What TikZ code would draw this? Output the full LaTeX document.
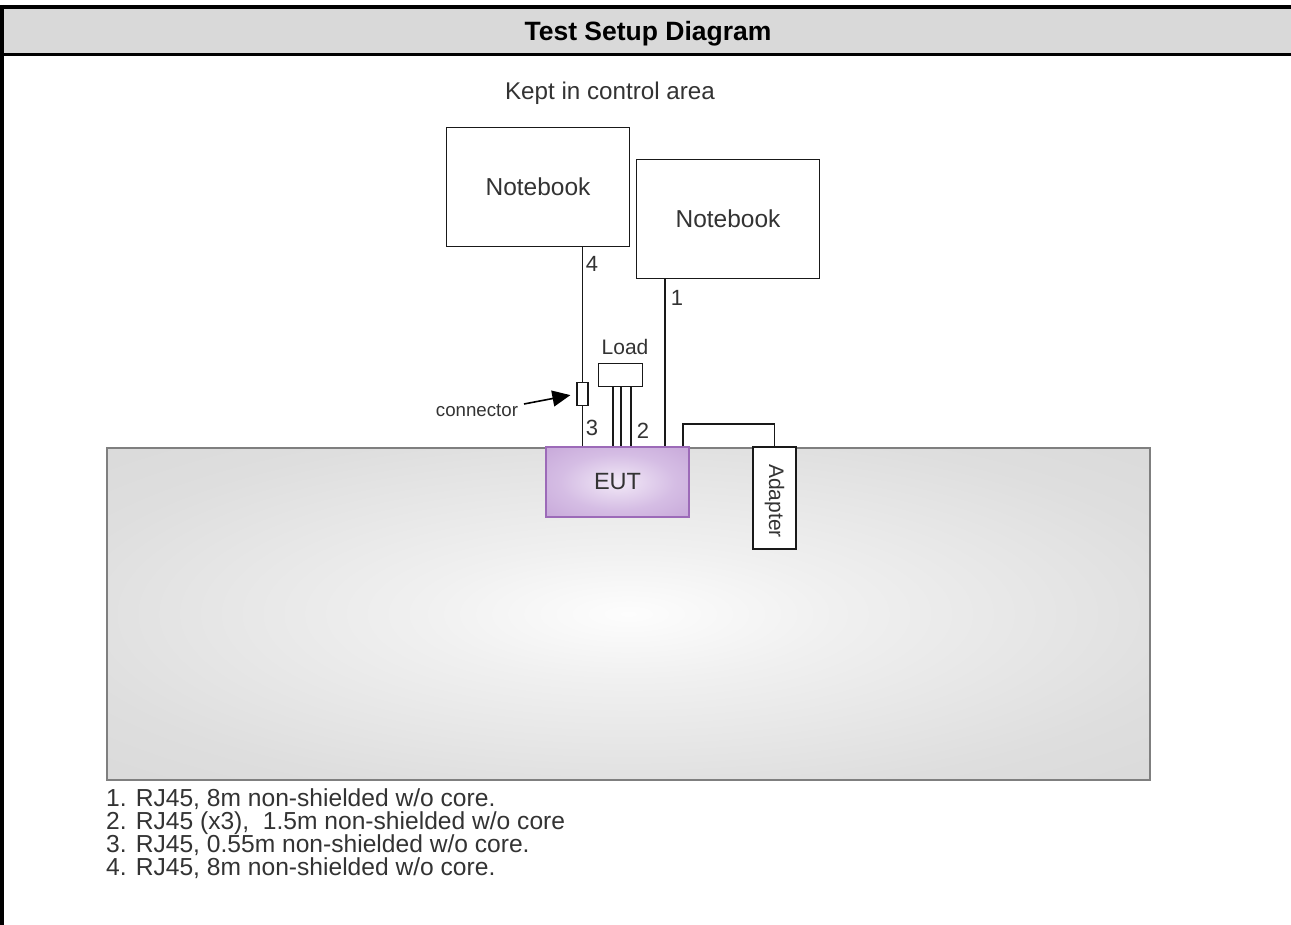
\documentclass[tikz,border=0pt]{standalone}
\usepackage{fontspec}
\setmainfont{Liberation Sans}
\usetikzlibrary{arrows.meta}
\definecolor{bandgray}{HTML}{D9D9D9}
\definecolor{inkgray}{HTML}{333333}
\definecolor{tableedge}{HTML}{7F7F7F}
\definecolor{eutedge}{HTML}{9C6AB8}
\definecolor{tA}{HTML}{FDFDFD}
\definecolor{tB}{HTML}{F0F0F0}
\definecolor{tC}{HTML}{DEDEDE}
\definecolor{tD}{HTML}{D3D3D3}
\definecolor{tE}{HTML}{CACACA}
\definecolor{eA}{HTML}{F2E9F7}
\definecolor{eB}{HTML}{D5BDE4}
\definecolor{eC}{HTML}{BB96D0}
\definecolor{eD}{HTML}{AF84C7}
\newcommand{\fsz}[1]{\fontsize{#1}{#1}\selectfont}
% soft radial fills for the table top and the EUT
\pgfdeclareradialshading{tablefill}{\pgfpoint{0bp}{0bp}}{%
  color(0bp)=(tA); color(10bp)=(tB); color(28bp)=(tC);
  color(50bp)=(tD); color(71bp)=(tE)}
\pgfdeclareradialshading{eutfill}{\pgfpoint{0bp}{0bp}}{%
  color(0bp)=(eA); color(20bp)=(eB); color(50bp)=(eC); color(71bp)=(eD)}
\tikzset{
  frameline/.style={line width=3.5pt, black},
  wire/.style={line width=1.8pt, black!90},
  boxed/.style={draw=black!90, line width=1.7pt, fill=white, inner sep=0pt},
  label/.style={text=inkgray, inner sep=0pt, anchor=base},
}
\begin{document}
\begin{tikzpicture}[x=1pt,y=-1pt]
\useasboundingbox (0,0) rectangle (1291,925);
\fill[white] (0,0) rectangle (1291,925);

% page frame and heading band
\fill[bandgray] (2,7) rectangle (1291,55);
\draw[line width=4pt] (0,7) -- (1291,7);
\draw[line width=3pt] (2,55) -- (1291,55);
\draw[frameline] (1.75,5) -- (1.75,925);
\node[anchor=base, inner sep=0pt] (title) at (648,41)
  {\bfseries\fsz{26.5}Test Setup Diagram};

% table
\node[draw=tableedge, line width=1.5pt, minimum width=1043pt, minimum height=332pt,
      inner sep=0pt, shading=tablefill, anchor=north west]
      (table) at (106,447) {};

\node[label] (area) at (610,100) {\fsz{24.2}Kept in control area};

% notebooks
\node[boxed, minimum width=183pt, minimum height=119pt, text=inkgray]
  (nb1) at (538,187) {\fsz{24.5}Notebook};
\node[boxed, minimum width=183pt, minimum height=119pt, text=inkgray]
  (nb2) at (728,219) {\fsz{24.5}Notebook};

% EUT
\node[draw=eutedge, line width=1.5pt, minimum width=143pt, minimum height=70pt,
      inner sep=0pt, shading=eutfill, text=inkgray]
  (eut) at (617.5,482) {\fsz{23.5}EUT};

% load
\node[boxed, minimum width=44pt, minimum height=23pt] (load) at (620.5,375) {};
\node[label] (loadtxt) at (625,355) {\fsz{21}Load};

% in-line connector
\node[boxed, line width=1.4pt, minimum width=11pt, minimum height=23pt] (conn) at (582.5,394) {};
\node[label] (conntxt) at (477,417) {\fsz{18.7}connector};
\coordinate (conntail) at (524,404);

% adapter
\node[boxed, minimum width=43pt, minimum height=102pt] (adapter) at (774.5,498) {};
\node[text=inkgray, inner sep=0pt, rotate=-90] (adaptertxt) at (774.5,501) {\fsz{21}Adapter};

% cable 4 and 3 through the connector
\draw[wire] (nb1.south -| conn.north) -- (conn.north);
\draw[wire] (conn.south) -- (eut.north -| conn.south);
% cable 1
\coordinate (c1) at (665,0);
\draw[wire] (nb2.south -| c1) -- (eut.north -| c1);
% cable 2 (three lines to the load)
\foreach \xx in {613,621,631}{
  \coordinate (c2) at (\xx,0);
  \draw[wire] (load.south -| c2) -- (eut.north -| c2);
}
% power cable to the adapter
\coordinate (pw) at (683,424);
\draw[wire] (eut.north -| pw) -- (pw) -- (pw -| adapter.north) -- (adapter.north);

% pointer to the connector
\draw[line width=1.6pt, black, -{Triangle[length=18pt,width=16pt]}, shorten >=6pt]
  (conntail) -- (conn.west);

% cable numbers
\node[label] (n4) at (592,272) {\fsz{22}4};
\node[label] (n1) at (677,306) {\fsz{22}1};
\node[label] (n3) at (592,435) {\fsz{22}3};
\node[label] (n2) at (643,438) {\fsz{22}2};

% cable list
\node[label, anchor=base west] (l1) at (106,806) {\fsz{24.6}1. RJ45, 8m non-shielded w/o core.};
\node[label, anchor=base west] (l2) at (106,829) {\fsz{24.6}2. RJ45 (x3),\ \ 1.5m non-shielded w/o core};
\node[label, anchor=base west] (l3) at (106,852) {\fsz{24.6}3. RJ45, 0.55m non-shielded w/o core.};
\node[label, anchor=base west] (l4) at (106,875) {\fsz{24.6}4. RJ45, 8m non-shielded w/o core.};
\end{tikzpicture}
\end{document}
